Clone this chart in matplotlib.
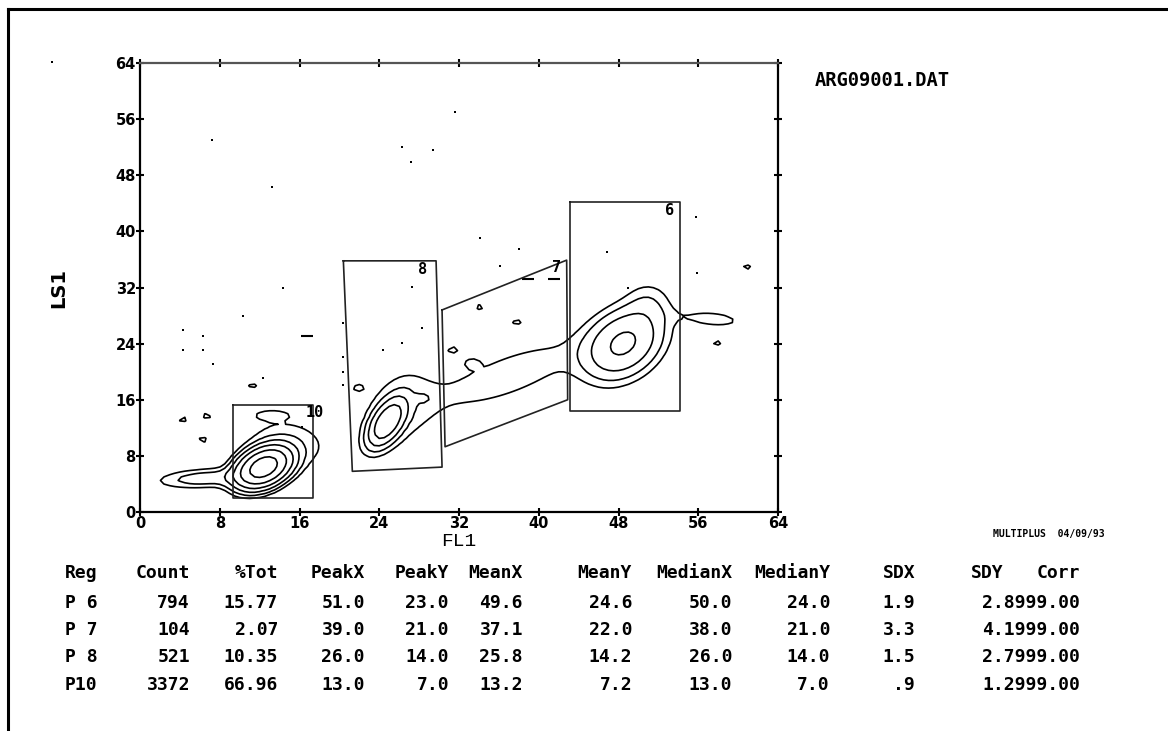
import numpy as np
import matplotlib
matplotlib.use("Agg")
import matplotlib.pyplot as plt
from matplotlib.lines import Line2D

##############################
#  data
##############################
TITLE = "ARG09001.DAT"
STAMP = "MULTIPLUS  04/09/93"
ticks = [0, 8, 16, 24, 32, 40, 48, 56, 64]

#-- density components (x, y, sdx, sdy, rho, peak) of the FL1/LS1 histogram
comp_x   = [12.4, 6.5, 15.0, 13.2, 24.8, 26.0, 37.0, 48.5, 51.0, 57.5]
comp_y   = [6.4, 4.8, 10.0, 13.8, 12.8, 15.0, 19.5, 24.0, 30.0, 27.5]
comp_sx  = [1.5, 3.0, 3.0, 1.2, 1.1, 2.6, 6.2, 2.3, 1.5, 2.5]
comp_sy  = [1.6, 0.9, 2.6, 0.5, 2.0, 4.5, 4.1, 3.0, 2.0, 1.0]
comp_rho = [0.35, 0.25, -0.2, 0.0, 0.55, 0.3, 0.73, 0.3, 0.0, -0.3]
comp_pk  = [48.0, 3.0, 1.5, 1.5, 14.0, 1.4, 1.5, 9.0, 1.3, 1.4]

#-- small isolated islands (x, y)
isle_x = [4.3, 6.7, 6.3, 11.3, 21.9, 28.4, 34.1, 37.8, 31.4, 33.3, 60.9, 57.9]
isle_y = [13.2, 13.7, 10.3, 18.0, 17.7, 16.2, 29.2, 27.1, 23.1, 21.2, 34.9, 24.1]

#-- short streaks (x, y, rho)
streak_x   = [9.8, 7.7]
streak_y   = [56.4, 28.1]
streak_rho = [-0.95, -0.93]

levels = [1, 2, 4, 8, 16, 32]

#-- single events
event_x = [7.2, 13.2, 14.3, 10.3, 4.3, 6.3, 26.3, 27.2, 27.3, 28.3, 34.1, 36.1, 46.8,
           49.0, 55.8, 55.9, 31.6, 29.4, 4.3, 6.3, 7.3, 12.3, 16.3, 20.4, 20.4, 20.4,
           26.3, 24.4, 20.4, 38.0]
event_y = [53.0, 46.3, 32.0, 28.0, 26.0, 25.1, 52.0, 49.9, 32.1, 26.2, 39.0, 35.0, 37.0,
           32.0, 42.0, 34.0, 57.0, 51.6, 23.1, 23.1, 21.1, 19.1, 12.1, 22.1, 20.0, 18.1,
           24.1, 23.1, 27.0, 37.5]
dash_x = [16.8, 38.9, 41.5]
dash_y = [25.1, 33.2, 33.2]

#-- gates
gate_names = ["10", "8", "7", "6"]
gate_x = [[9.3, 17.4, 17.4, 9.3, 9.3],
          [20.4, 29.7, 30.3, 21.3, 20.4],
          [30.3, 42.8, 42.9, 30.6, 30.3],
          [43.1, 54.2, 54.2, 43.1, 43.1]]
gate_y = [[15.2, 15.2, 2.0, 2.0, 15.2],
          [35.8, 35.8, 6.4, 5.8, 35.8],
          [28.8, 35.9, 16.0, 9.3, 28.8],
          [44.2, 44.2, 14.4, 14.4, 44.2]]
label_x = [18.4, 28.8, 42.2, 53.6]
label_y = [14.2, 34.6, 34.8, 43.0]

#-- statistics table
headers = ["Reg", "Count", "%Tot", "PeakX", "PeakY", "MeanX", "MeanY",
           "MedianX", "MedianY", "SDX", "SDY", "Corr"]
reg = ["P 6", "P 7", "P 8", "P10"]
count = [794, 104, 521, 3372]
pct_tot = [15.77, 2.07, 10.35, 66.96]
peak_x = [51.0, 39.0, 26.0, 13.0]
peak_y = [23.0, 21.0, 14.0, 7.0]
mean_x = [49.6, 37.1, 25.8, 13.2]
mean_y = [24.6, 22.0, 14.2, 7.2]
median_x = [50.0, 38.0, 26.0, 13.0]
median_y = [24.0, 21.0, 14.0, 7.0]
sd_x = [1.9, 3.3, 1.5, 0.9]
sd_y = [2.8, 4.1, 2.7, 1.2]
corr = [999.00, 999.00, 999.00, 999.00]


def gauss2d(X, Y, cx, cy, sx, sy, r, pk):
	dx = (X - cx) / sx
	dy = (Y - cy) / sy
	q = (dx * dx - 2 * r * dx * dy + dy * dy) / (1 - r * r)
	return pk * np.exp(-0.5 * q)


def fmt1(v):
	s = "%.1f" % v
	return s[1:] if s.startswith("0.") else s


##############################
#  figure
##############################
W, H = 1168, 731
fig = plt.figure(figsize=(W / 100, H / 100), dpi=100)
fig.patch.set_facecolor("white")

#-- page border (left and top only)
fig.add_artist(Line2D([8 / W, 8 / W], [0, 1 - 9 / H], color="k", lw=2.2))
fig.add_artist(Line2D([8 / W, 1], [1 - 9 / H, 1 - 9 / H], color="k", lw=2.2))

ax = fig.add_axes([140 / W, 1 - 512 / H, 638 / W, 449 / H])
ax.set_xlim(0, 64)
ax.set_ylim(0, 64)

gx = np.linspace(0, 64, 129)
X, Y = np.meshgrid(gx, gx)
Z = np.zeros_like(X)
for cx, cy, sx, sy, r, pk in zip(comp_x, comp_y, comp_sx, comp_sy, comp_rho, comp_pk):
	Z += gauss2d(X, Y, cx, cy, sx, sy, r, pk)
for cx, cy in zip(isle_x, isle_y):
	Z += gauss2d(X, Y, cx, cy, 0.5, 0.45, 0.0, 1.35)
for cx, cy, r in zip(streak_x, streak_y, streak_rho):
	Z += gauss2d(X, Y, cx, cy, 0.55, 0.55, r, 1.25)

ax.contour(X, Y, Z, levels=levels, colors="k", linewidths=1.2)

ax.scatter(event_x, event_y, s=3, c="k", marker="s", lw=0)
ax.scatter([-8.8], [64.2], s=3, c="k", marker="s", lw=0, clip_on=False)
ax.plot(dash_x, dash_y, ls="none", marker="_", ms=9, mew=1.5, color="k")

for gxs, gys in zip(gate_x, gate_y):
	ax.plot(gxs, gys, color="#222222", lw=1.2)
for name, lx, ly in zip(gate_names, label_x, label_y):
	ax.text(lx, ly, name, ha="right", va="center", fontsize=11,
			family="DejaVu Sans Mono", weight="bold")

#-- axes styling
for sp in ax.spines.values():
	sp.set_linewidth(1.6)
ax.spines["top"].set_color("#555555")
ax.set_xticks(ticks)
ax.set_yticks(ticks)
ax.tick_params(direction="inout", length=6, width=1.5, top=True, right=True,
			   labelsize=10.5, pad=0)
for lab in ax.get_xticklabels() + ax.get_yticklabels():
	lab.set_fontweight("bold")
	lab.set_family("DejaVu Sans")

ax.set_xlabel("FL1", family="Liberation Mono", fontsize=14, labelpad=1)
ax.set_ylabel("LS1", family="DejaVu Sans", weight="bold", fontsize=14, labelpad=34)

fig.text(815 / W, 1 - 80 / H, TITLE, family="DejaVu Sans Mono", weight="bold",
		 fontsize=13.5, va="center", ha="left")
fig.text(1105 / W, 1 - 534 / H, STAMP, family="DejaVu Sans Mono", weight="bold",
		 fontsize=7, va="center", ha="right")

##############################
#  table
##############################
col_right = [None, 190, 278, 365, 449, 523, 632, 732, 830, 915, 1004, 1080]
row_y = [603, 630, 657, 685]
tfont = dict(family="DejaVu Sans Mono", weight="bold", fontsize=13, va="center")

fig.text(65 / W, 1 - 573 / H, headers[0], ha="left", **tfont)
for h, xr in zip(headers[1:], col_right[1:]):
	fig.text(xr / W, 1 - 573 / H, h, ha="right", **tfont)

for i, yy in enumerate(row_y):
	cells = [str(count[i]), "%.2f" % pct_tot[i], fmt1(peak_x[i]), fmt1(peak_y[i]),
			 fmt1(mean_x[i]), fmt1(mean_y[i]), fmt1(median_x[i]), fmt1(median_y[i]),
			 fmt1(sd_x[i])]
	fig.text(65 / W, 1 - yy / H, reg[i], ha="left", **tfont)
	for c, xr in zip(cells, col_right[1:10]):
		fig.text(xr / W, 1 - yy / H, c, ha="right", **tfont)
	#-- the printout runs SDY and Corr together
	fig.text(col_right[11] / W, 1 - yy / H, fmt1(sd_y[i]) + "%.2f" % corr[i],
			 ha="right", **tfont)

fig.savefig("out.png", dpi=100, facecolor="white")
